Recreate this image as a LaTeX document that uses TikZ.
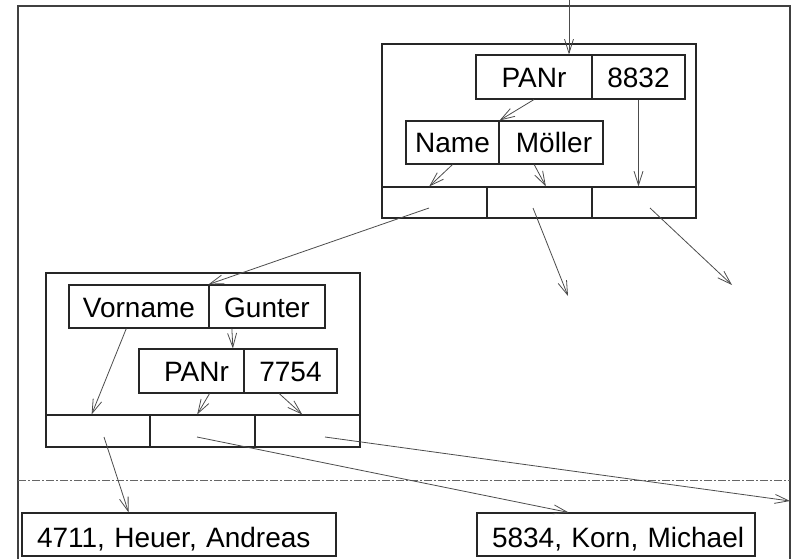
\documentclass[tikz,border=0pt]{standalone}
\usepackage{fontspec}
\setmainfont{Liberation Sans}
\usetikzlibrary{arrows.meta,calc}

\tikzset{
  cell/.style={draw=black!85, line width=1.1pt, inner sep=0pt, minimum height=44pt,
    text height=21pt, text depth=0pt, font=\fontsize{28}{33}\selectfont},
  tuple/.style={cell, text height=26pt, align=left},
  slot/.style={draw=black!85, line width=1.1pt, inner sep=0pt, minimum width=105pt, minimum height=31pt},
  record/.style={draw=black!85, line width=1.1pt, inner sep=0pt, minimum width=314pt, minimum height=174pt},
  ptr/.style={draw=black!70, line width=0.8pt, -{Straight Barb[length=14pt,width=9pt]}},
  frame/.style={draw=black!75, line width=1.6pt},
  cut/.style={draw=black!60, line width=1pt, dash pattern=on 8pt off 2pt on 2pt off 2pt}
}

\begin{document}
\begin{tikzpicture}[x=1pt, y=-1pt]
    \useasboundingbox (0,0) rectangle (795,559);
    \draw[frame] (18,559) -- (18,6) -- (790,6) -- (790,559);
    \draw[cut] (18,480) -- (790,480);

    % --- Record 8832 ---
    \node[record] (rec1) at (539,131) {};
    \node[cell, minimum width=116pt] (pk1) at (534,77) {PANr};
    \node[cell, minimum width=93pt] (pv1) at (638.5,77) {8832};
    \node[cell, minimum width=93pt, minimum height=43pt] (nk1) at (452.5,142.5) {Name};
    \node[cell, minimum width=104pt, minimum height=43pt] (mv1) at (551,142.5) {\hspace*{6pt}Möller};
    \foreach \i/\x in {1/434.5,2/539.5,3/644}
        \node[slot] (s\i) at (\x,202.5) {};

    \coordinate (entry) at (569,0);
    \draw[ptr] (entry) -- (entry |- pk1.north);
    \draw[ptr] (pk1.south) -- (nk1.north east);
    \draw[ptr] (pv1.south) -- (pv1.south |- s3.north);
    \draw[ptr] (nk1.south) -- ($(s1.north west)!0.45!(s1.north east)$);
    \draw[ptr] ($(mv1.south west)!0.34!(mv1.south east)$) -- ($(s2.north west)!0.56!(s2.north east)$);

    % --- Record 7754 ---
    \node[record] (rec2) at (203,360) {};
    \node[cell, minimum width=140pt, minimum height=43pt] (vk) at (139,306.5) {Vorname};
    \node[cell, minimum width=116pt, minimum height=43pt] (gv) at (267,306.5) {Gunter};
    \node[cell, minimum width=105pt] (pk2) at (191.5,371) {\hspace*{10pt}PANr};
    \node[cell, minimum width=93pt] (pv2) at (290.5,371) {7754};
    \foreach \i/\x in {1/98,2/202.5,3/307.5}
        \node[slot, minimum height=32pt] (t\i) at (\x,431) {};

    \draw[ptr] ($(gv.south west)!0.2!(gv.south east)$) -- ($(pk2.north west)!0.89!(pk2.north east)$);
    \draw[ptr] ($(vk.south west)!0.41!(vk.south east)$) -- ($(t1.north west)!0.44!(t1.north east)$);
    \draw[ptr] ($(pk2.south west)!0.67!(pk2.south east)$) -- ($(t2.north west)!0.45!(t2.north east)$);
    \draw[ptr] ($(pv2.south west)!0.38!(pv2.south east)$) -- ($(t3.north west)!0.45!(t3.north east)$);

    % --- pointers of record 8832 ---
    \coordinate (free1) at (568,296);
    \coordinate (free2) at (732,285);
    \draw[ptr] ($(s1.center)+(-5.5,5.5)$) -- (gv.north west);
    \draw[ptr] ($(s2.center)+(-6.5,5.5)$) -- (free1);
    \draw[ptr] ($(s3.center)+(6,5.5)$) -- (free2);

    % --- stored tuples ---
    \node[tuple, minimum width=314pt, minimum height=43pt, text width=284pt] (heuer) at (179,534.5) {\mbox{4711, Heuer, Andreas}};
    \node[tuple, minimum width=278pt, minimum height=43pt, text width=248pt] (korn) at (616,534.5) {\mbox{5834, Korn, Michael}};

    \coordinate (free3) at (790,501);
    \draw[ptr] ($(t1.center)+(6,6)$) -- ($(heuer.north west)!0.34!(heuer.north east)$);
    \draw[ptr] ($(t2.center)+(-5.5,6)$) -- ($(korn.north west)!0.33!(korn.north east)$);
    \draw[ptr] ($(t3.center)+(17.5,6)$) -- (free3);
\end{tikzpicture}
\end{document}
